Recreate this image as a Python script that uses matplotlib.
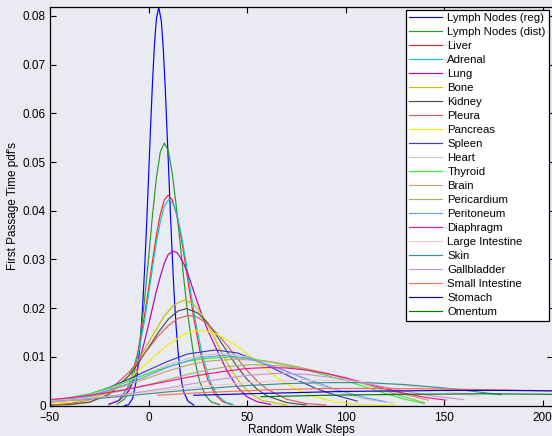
import matplotlib
matplotlib.use("Agg")
import matplotlib.pyplot as plt

plt.rcParams['font.family'] = ['Liberation Sans', 'DejaVu Sans']

# first passage time curves
reg_x = [-12, -10, -8, -6, -5, -4, -3, -2, -1, 0, 1, 2, 3, 4, 5.2, 6.5, 7.5, 8.5, 10, 11,
         12, 13, 14, 15, 16, 17, 18, 20, 23]
reg_y = [0.0, 0.0002, 0.0015, 0.0055, 0.0094, 0.0140, 0.0202, 0.0278, 0.0367, 0.0466,
         0.0567, 0.0661, 0.0740, 0.0794, 0.0818, 0.0790, 0.0733, 0.0652, 0.0506, 0.0406,
         0.0312, 0.0230, 0.0163, 0.0111, 0.0072, 0.0045, 0.0027, 0.0009, 0.0001]

dist_x = [-16, -12, -8, -6, -4, -2, 0, 2, 4, 6, 8, 10, 12, 14, 16, 18, 20, 23, 26, 29, 32, 36]
dist_y = [0.0003, 0.0014, 0.0052, 0.0090, 0.0145, 0.0217, 0.0301, 0.0389, 0.0467, 0.0521,
          0.0539, 0.0524, 0.0479, 0.0413, 0.0336, 0.0257, 0.0185, 0.0101, 0.0049, 0.0020,
          0.0007, 0.0002]

liver_x = [-20, -15, -10, -5, -2, 0, 2, 4, 6, 8, 10, 12, 14, 16, 18, 20, 23, 26, 30, 34, 38, 42]
liver_y = [0.0002, 0.0011, 0.0041, 0.0114, 0.0185, 0.0239, 0.0296, 0.0349, 0.0393, 0.0422,
           0.0432, 0.0423, 0.0397, 0.0358, 0.0310, 0.0257, 0.0179, 0.0114, 0.0054, 0.0022,
           0.0007, 0.0002]

adrenal_x = [-20, -15, -10, -5, -2, 0, 2, 4, 6, 8, 10.5, 13, 15, 17, 19, 21, 24, 27, 31, 35,
             39, 43]
adrenal_y = [0.0002, 0.0011, 0.0039, 0.0109, 0.0175, 0.0227, 0.0282, 0.0334, 0.0378, 0.0409,
             0.0424, 0.0411, 0.0383, 0.0343, 0.0295, 0.0244, 0.0170, 0.0109, 0.0052, 0.0021,
             0.0007, 0.0002]

lung_x = [-20, -15, -10, -7, -5, -2, 0, 2, 4, 6, 8, 10, 12.5, 14.5, 16, 18, 20, 22.5, 25,
          27.5, 30, 35, 40, 45, 50, 55, 62]
lung_y = [0.0003, 0.0010, 0.0030, 0.0056, 0.0085, 0.0132, 0.0165, 0.0200, 0.0235, 0.0265,
          0.0292, 0.0310, 0.0317, 0.0314, 0.0305, 0.0290, 0.0270, 0.0240, 0.0210, 0.0182,
          0.0155, 0.0112, 0.0070, 0.0038, 0.0018, 0.0008, 0.0002]

bone_x = [-50, -40, -30, -20, -10, -5, 0, 3, 8, 13, 18.4, 23, 28, 33, 38, 43, 48, 53, 58, 70]
bone_y = [0.0001, 0.0002, 0.0006, 0.0022, 0.0062, 0.0093, 0.0129, 0.0150, 0.0184, 0.0207,
          0.0217, 0.0208, 0.0181, 0.0143, 0.0102, 0.0067, 0.0039, 0.0021, 0.0010, 0.0001]

kidney_x = [-50, -40, -30, -20, -10, -5, 0, 5, 10, 15, 19.3, 25, 30, 35, 40, 45, 50, 55,
            60, 70, 80]
kidney_y = [0.0001, 0.0002, 0.0007, 0.0023, 0.0061, 0.0088, 0.0119, 0.0150, 0.0177, 0.0194,
            0.0199, 0.0190, 0.0170, 0.0141, 0.0110, 0.0080, 0.0054, 0.0034, 0.0020, 0.0006,
            0.0001]

pleura_x = [-50, -40, -30, -20, -10, -5, 0, 5, 10, 15, 20.5, 25, 30, 35, 40, 45, 50, 55,
            60, 70, 80, 90]
pleura_y = [0.0001, 0.0004, 0.0012, 0.0031, 0.0068, 0.0092, 0.0117, 0.0143, 0.0164, 0.0179,
            0.0185, 0.0181, 0.0168, 0.0147, 0.0123, 0.0097, 0.0072, 0.0051, 0.0034, 0.0013,
            0.0004, 0.0001]

pancreas_x = [-50, -40, -30, -20, -10, 0, 10, 18, 22, 26, 30, 35, 45, 55, 65, 75, 85, 95,
              105, 115, 125]
pancreas_y = [0.0005, 0.0007, 0.0013, 0.0028, 0.0055, 0.0090, 0.0125, 0.0146, 0.0152,
              0.0154, 0.0152, 0.0146, 0.0122, 0.0090, 0.0058, 0.0033, 0.0017, 0.0007,
              0.0003, 0.0001, 0.0]

spleen_x = [-50, -40, -30, -20, -10, 0, 10, 20, 34, 45, 55, 65, 75, 85, 95, 106]
spleen_y = [0.0008, 0.0014, 0.0023, 0.0037, 0.0054, 0.0073, 0.0091, 0.0106, 0.0114,
            0.0108, 0.0093, 0.0073, 0.0053, 0.0035, 0.0021, 0.0009]

heart_x = [-50, -40, -30, -20, -10, 0, 10, 25, 36.5, 50, 65, 80, 95, 110, 125]
heart_y = [0.0008, 0.0014, 0.0023, 0.0035, 0.0051, 0.0067, 0.0084, 0.0102, 0.0107,
           0.0100, 0.0078, 0.0052, 0.0029, 0.0013, 0.0005]

thyroid_x = [-50, -40, -30, -20, -10, 0, 10, 20, 30, 40, 50, 60, 70, 80, 90, 100, 110, 120, 130, 140]
thyroid_y = [0.0010, 0.0016, 0.0024, 0.0036, 0.0050, 0.0066, 0.0080, 0.0091, 0.0097, 0.0099,
             0.0097, 0.0091, 0.0083, 0.0073, 0.0062, 0.0051, 0.0038, 0.0025, 0.0013, 0.0004]

brain_x = [-50, -40, -30, -20, -10, 0, 10, 20, 30, 43, 55, 65, 75, 85, 95, 105, 115, 125, 135, 142]
brain_y = [0.0008, 0.0013, 0.0020, 0.0030, 0.0043, 0.0057, 0.0071, 0.0083, 0.0091, 0.0095,
           0.0093, 0.0088, 0.0080, 0.0071, 0.0061, 0.0050, 0.0039, 0.0028, 0.0018, 0.0011]

peri_x = [-50, -40, -30, -20, -10, 0, 10, 20, 30, 40, 52, 65, 75, 85, 95, 105, 115, 125, 133, 140]
peri_y = [0.0009, 0.0013, 0.0018, 0.0025, 0.0033, 0.0043, 0.0053, 0.0064, 0.0073, 0.0080,
          0.0084, 0.0082, 0.0077, 0.0070, 0.0061, 0.0050, 0.0037, 0.0024, 0.0014, 0.0006]

peritoneum_x = [-50, -30, -10, 10, 25, 38, 50, 65, 80, 95, 110, 120]
peritoneum_y = [0.0007, 0.0019, 0.0045, 0.0079, 0.0098, 0.0103, 0.0097, 0.0078, 0.0055,
                0.0033, 0.0016, 0.0008]

diaphragm_x = [-50, -40, -30, -20, -10, 0, 10, 20, 30, 40, 50, 60, 70, 80, 90, 100,
               110, 120, 130, 140, 151]
diaphragm_y = [0.0012, 0.0016, 0.0021, 0.0027, 0.0034, 0.0042, 0.0050, 0.0058, 0.0065,
               0.0071, 0.0076, 0.0078, 0.0077, 0.0073, 0.0066, 0.0057, 0.0046, 0.0035,
               0.0025, 0.0017, 0.0011]

large_x = [-50, -30, -10, 10, 30, 50, 70, 90, 110, 130, 150, 168]
large_y = [0.0009, 0.0015, 0.0023, 0.0032, 0.0040, 0.0047, 0.0051, 0.0052, 0.0049,
           0.0041, 0.0030, 0.0018]

skin_x = [-50, -30, -10, 10, 30, 50, 70, 90, 110, 130, 150, 165, 179]
skin_y = [0.0008, 0.0013, 0.0020, 0.0028, 0.0035, 0.0041, 0.0045, 0.0047, 0.0047,
          0.0043, 0.0036, 0.0029, 0.0022]

gall_x = [-50, -30, -10, 10, 30, 50, 65, 80, 100, 120, 140, 160]
gall_y = [0.0007, 0.0014, 0.0024, 0.0036, 0.0050, 0.0062, 0.0066, 0.0064, 0.0054,
          0.0038, 0.0022, 0.0012]

small_x = [4.5, 30, 60, 90, 120, 150, 180, 206]
small_y = [0.0021, 0.0027, 0.0032, 0.0035, 0.0035, 0.0034, 0.0032, 0.0030]

stomach_x = [23, 50, 80, 100, 130, 150, 180, 206]
stomach_y = [0.0021, 0.0024, 0.0027, 0.0029, 0.0030, 0.0031, 0.0031, 0.0030]

omentum_x = [57, 90, 130, 170, 206]
omentum_y = [0.0018, 0.0021, 0.0023, 0.0024, 0.0023]

labels = ["Lymph Nodes (reg)", "Lymph Nodes (dist)", "Liver", "Adrenal", "Lung", "Bone",
          "Kidney", "Pleura", "Pancreas", "Spleen", "Heart", "Thyroid", "Brain",
          "Pericardium", "Peritoneum", "Diaphragm", "Large Intestine", "Skin",
          "Gallbladder", "Small Intestine", "Stomach", "Omentum"]
colors = ["#0000ff", "#2a9a2a", "#ff2020", "#10c8c8", "#b800b8", "#c8c000",
          "#505050", "#d06060", "#f0f000", "#3c3cc8", "#c8c8c8", "#30f030", "#c8a070",
          "#a8b468", "#6a9cff", "#ff1493", "#ecccc8", "#3a9090", "#c898d0",
          "#ff7050", "#0000d8", "#007a00"]
xs = [reg_x, dist_x, liver_x, adrenal_x, lung_x, bone_x, kidney_x, pleura_x, pancreas_x,
      spleen_x, heart_x, thyroid_x, brain_x, peri_x, peritoneum_x, diaphragm_x, large_x,
      skin_x, gall_x, small_x, stomach_x, omentum_x]
ys = [reg_y, dist_y, liver_y, adrenal_y, lung_y, bone_y, kidney_y, pleura_y, pancreas_y,
      spleen_y, heart_y, thyroid_y, brain_y, peri_y, peritoneum_y, diaphragm_y, large_y,
      skin_y, gall_y, small_y, stomach_y, omentum_y]

bg = "#eaeaf2"
fig = plt.figure(figsize=(5.52, 4.36), dpi=100, facecolor=bg)
ax = fig.add_axes([50/552, 1 - 405.5/436, 503/552, 398.8/436], facecolor=bg)

for x, y, c, lab in zip(xs, ys, colors, labels):
    ax.plot(x, y, color=c, lw=0.85, label=lab)

ax.set_xlim(-50, -50 + 503/1.97)
ax.set_ylim(0, 0.0819)
ax.set_xticks([-50, 0, 50, 100, 150, 200])
ax.set_xticklabels(["\u221250", "0", "50", "100", "150", "200"])
ax.set_yticks([0, 0.01, 0.02, 0.03, 0.04, 0.05, 0.06, 0.07, 0.08])
ax.set_yticklabels(["0", "0.01", "0.02", "0.03", "0.04", "0.05", "0.06", "0.07", "0.08"])
ax.tick_params(direction="in", length=4, width=0.8, top=True, right=True,
               labelsize=8.5, colors="black", pad=3)
ax.tick_params(axis="x", pad=5)
for s in ax.spines.values():
    s.set_color("black")
    s.set_linewidth(0.9)

ax.set_xlabel("Random Walk Steps", fontsize=8.5, labelpad=0)
ax.set_ylabel("First Passage Time pdf's", fontsize=8.5, labelpad=3)

leg = ax.legend(loc="upper right", bbox_to_anchor=(549/552, 1 - 10/436),
                bbox_transform=fig.transFigure, fontsize=8.2, frameon=True,
                fancybox=False, framealpha=1, edgecolor="black",
                handlelength=2.9, handletextpad=0.45, labelspacing=0.35,
                borderpad=0.3, borderaxespad=0)
leg.get_frame().set_linewidth(0.9)

fig.savefig("out.png", dpi=100, facecolor=bg)
